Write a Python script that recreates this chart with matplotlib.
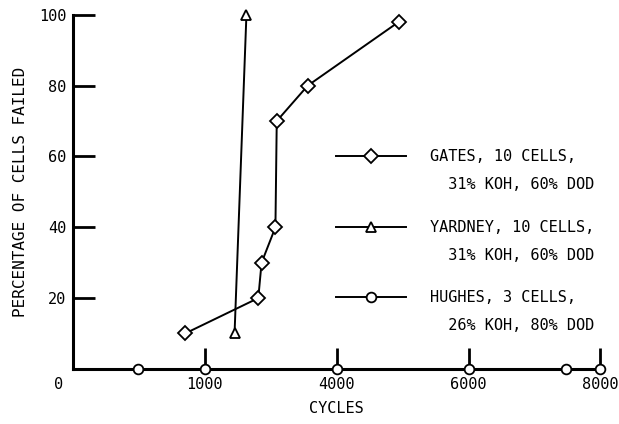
import numpy as np
import matplotlib
matplotlib.use('Agg')
import matplotlib.pyplot as plt
import matplotlib.transforms as mtransforms
from matplotlib.legend_handler import HandlerLine2D
from matplotlib.lines import Line2D

# data
gates_cycles = [1700, 2810, 2860, 3070, 3090, 3560, 4940]
gates_pct = [10, 20, 30, 40, 70, 80, 98]

yardney_cycles = [2450, 2630]
yardney_pct = [10, 100]

hughes_cycles = [980, 2000, 4000, 6000, 7480, 8000]
hughes_pct = [0, 0, 0, 0, 0, 0]

x_ticks = [0, 2000, 4000, 6000, 8000]
x_ticklabels = ['0', '1000', '4000', '6000', '8000']
y_ticks = [20, 40, 60, 80, 100]

labels = ['GATES, 10 CELLS,\n  31% KOH, 60% DOD',
          'YARDNEY, 10 CELLS,\n  31% KOH, 60% DOD',
          'HUGHES, 3 CELLS,\n  26% KOH, 80% DOD']

FONT = 'DejaVu Sans Mono'
plt.rcParams['font.family'] = FONT


class FirstLineHandler(HandlerLine2D):
    # put the legend key level with the first line of a two-line label
    def create_artists(self, legend, orig_handle, xdescent, ydescent,
                       width, height, fontsize, trans):
        arts = super().create_artists(legend, orig_handle, xdescent, ydescent,
                                      width, height, fontsize, trans)
        for a in arts:
            a.set_ydata(np.asarray(a.get_ydata()) + 10.8)
        return arts


fig = plt.figure(figsize=(6.19, 4.24), dpi=100)
ax = fig.add_axes([0.118, 0.13, 0.852, 0.835])

mk = dict(color='black', lw=1.4, markerfacecolor='white',
          markeredgecolor='black', markeredgewidth=1.3, clip_on=False, zorder=5)

l1, = ax.plot(gates_cycles, gates_pct, marker='D', markersize=7.5, **mk)
l2, = ax.plot(yardney_cycles, yardney_pct, marker='^', markersize=7, **mk)
l3, = ax.plot(hughes_cycles, hughes_pct, marker='o', markersize=7, **mk)

ax.set_xlim(0, 8000)
ax.set_ylim(0, 100)

for s in ['top', 'right']:
    ax.spines[s].set_visible(False)
for s in ['left', 'bottom']:
    ax.spines[s].set_linewidth(2.2)

ax.set_xticks(x_ticks)
ax.set_xticklabels(x_ticklabels)
ax.set_yticks(y_ticks)
ax.tick_params(axis='both', direction='in', width=2, labelsize=11)
ax.tick_params(axis='y', length=16, pad=5)
ax.tick_params(axis='x', length=15, pad=6)

# the "0" sits left of the origin in the original
lab0 = ax.get_xticklabels()[0]
lab0.set_transform(lab0.get_transform() +
                   mtransforms.ScaledTranslation(-14 / 100, 0, fig.dpi_scale_trans))

ax.set_xlabel('CYCLES', fontsize=11, labelpad=6)
ax.set_ylabel('PERCENTAGE OF CELLS FAILED', fontsize=11.5, labelpad=8)

leg = ax.legend([l1, l2, l3], labels, loc='upper left',
                bbox_to_anchor=(0.498, 0.62), frameon=False, fontsize=11,
                handlelength=4.6, handletextpad=1.6, labelspacing=1.83,
                borderpad=0, borderaxespad=0,
                handler_map={Line2D: FirstLineHandler()})
for t in leg.get_texts():
    t.set_linespacing(2.05)

plt.savefig('out.png', dpi=100)
plt.close()
